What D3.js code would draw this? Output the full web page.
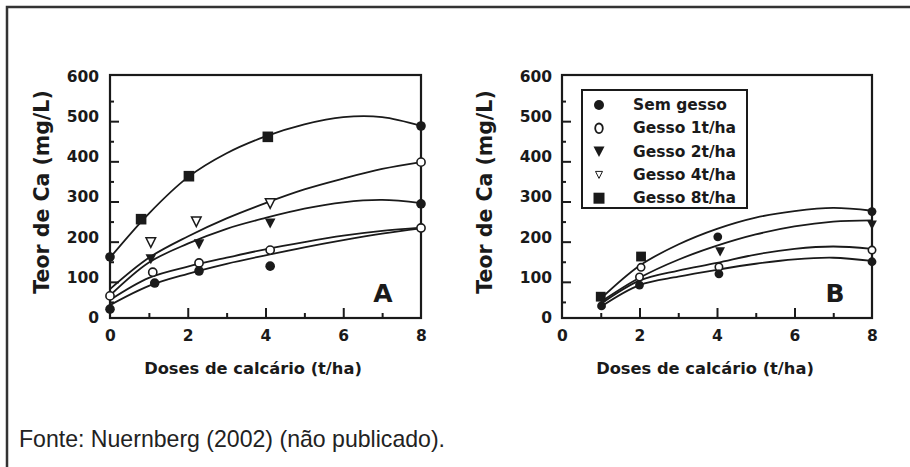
<!DOCTYPE html>
<html>
<head>
<meta charset="utf-8">
<script src="https://cdn.jsdelivr.net/npm/d3@7"></script>
<style>
  body { margin: 0; background: #fff; }
  svg { display: block; }
  .axt { font-family: "DejaVu Sans", sans-serif; font-weight: bold; fill: #1a1a1a; }
</style>
</head>
<body>
<svg id="fig" width="910" height="467"></svg>
<script>
// series (legend order) and their symbols
var seriesNames = ["Sem gesso", "Gesso 1t/ha", "Gesso 2t/ha", "Gesso 4t/ha", "Gesso 8t/ha"];
var seriesSyms  = ["fc", "oc", "ft", "ot", "sq"];

// axis ticks
var yLabels = [0, 100, 200, 300, 400, 500, 600];
var yMajor  = [100, 200, 300, 400, 500];
var yMinor  = [50, 150, 250, 350, 450, 550];
var xLabels = [0, 2, 4, 6, 8];
var xMajor  = [2, 4, 6];
var xMinor  = [1, 3, 5, 7];

// fitted curves at each dose
var curveX = [0, 1, 2, 3, 4, 5, 6, 7, 8];
var curveA_sem = [42, 90, 120, 145, 166, 186, 204, 220, 233];
var curveA_g1  = [55, 110, 138, 160, 181, 199, 215, 227, 235];
var curveA_g2  = [66, 148, 195, 232, 259, 282, 298, 304, 296];
var curveA_g4  = [82, 160, 213, 258, 296, 330, 357, 381, 398];
var curveA_g8  = [160, 270, 360, 420, 462, 492, 510, 510, 488];

var curveBX = [1, 2, 3, 4, 5, 6, 7, 8];
var curveB_sem = [38, 92, 113, 130, 145, 156, 160, 152];
var curveB_g1  = [45, 103, 128, 147, 168, 182, 188, 182];
var curveB_g2  = [50, 110, 155, 190, 218, 238, 250, 253];
var curveB_top = [58, 140, 193, 232, 260, 276, 284, 277];

// measured points (dose, Ca, symbol)
var ptsA_x   = [0, 0, 0, 0.8, 1.05, 1.05, 1.1, 1.15, 2.03, 2.22, 2.29, 2.29, 2.29, 4.06, 4.12, 4.12, 4.12, 4.12, 8, 8, 8, 8];
var ptsA_y   = [32, 65, 162, 256, 199, 157, 124, 97, 363, 251, 194, 147, 127, 461, 296, 246, 179, 139, 488, 398, 294, 234];
var ptsA_sym = ["fc", "oc", "fc", "sq", "ot", "ft", "oc", "fc", "sq", "ot", "ft", "oc", "fc", "sq", "ot", "ft", "oc", "fc", "fc", "oc", "fc", "oc"];

var ptsB_x   = [1.0, 1.02, 2.04, 2.04, 2.0, 2.0, 4.02, 4.08, 4.05, 4.05, 8, 8, 8, 8];
var ptsB_y   = [63, 40, 163, 136, 112, 92, 212, 175, 137, 120, 275, 242, 179, 150];
var ptsB_sym = ["sq", "fc", "sq", "oc", "oc", "fc", "fc", "ft", "oc", "fc", "fc", "ft", "oc", "fc"];

var svg = d3.select("#fig");
var ink = "#1a1a1a";

// outer frame (top and left only)
svg.append("path")
    .attr("d", "M7,467V7H910")
    .attr("fill", "none")
    .attr("stroke", "#333")
    .attr("stroke-width", 2.5);

function symbol(g, kind, r)
{
    if (kind == "fc") {
        g.append("circle").attr("r", r).attr("fill", ink);
    } else if (kind == "oc") {
        g.append("circle").attr("r", r - 0.7).attr("fill", "#fff").attr("stroke", ink).attr("stroke-width", 1.6);
    } else if (kind == "sq") {
        g.append("rect").attr("x", -r - 0.5).attr("y", -r - 0.5).attr("width", 2 * r + 1).attr("height", 2 * r + 1).attr("fill", ink);
    } else if (kind == "ft") {
        g.append("path").attr("d", "M" + (-r - 0.5) + "," + (-r) + "H" + (r + 0.5) + "L0," + (r + 0.5) + "Z").attr("fill", ink);
    } else if (kind == "ot") {
        g.append("path").attr("d", "M" + (-r) + "," + (-r + 0.5) + "H" + r + "L0," + (r + 0.5) + "Z")
            .attr("fill", "#fff").attr("stroke", ink).attr("stroke-width", 1.5);
    }
}

function panel(opt)
{
    var x = d3.scaleLinear().domain([0, 8]).range([opt.x0, opt.x1]);
    var y = d3.scaleLinear().domain([0, 600]).range([322, 81]);
    var top = 75, bottom = 318;

    var g = svg.append("g");

    // y ticks (inward)
    g.append("g").attr("transform", "translate(" + opt.x0 + ",0)")
        .call(d3.axisLeft(y).tickValues(yMajor).tickSizeInner(-9).tickSizeOuter(0).tickFormat(""))
        .call(function(a) { a.select(".domain").remove(); a.selectAll("line").attr("stroke", ink).attr("stroke-width", 2); });
    g.append("g").attr("transform", "translate(" + opt.x0 + ",0)")
        .call(d3.axisLeft(y).tickValues(yMinor).tickSizeInner(-4).tickSizeOuter(0).tickFormat(""))
        .call(function(a) { a.select(".domain").remove(); a.selectAll("line").attr("stroke", ink).attr("stroke-width", 2); });
    // y labels (sit a little above their ticks, as in the scan)
    g.append("g").attr("transform", "translate(" + opt.x0 + ",-4.5)")
        .call(d3.axisLeft(y).tickValues(yLabels).tickSize(0).tickPadding(opt.ypad))
        .call(function(a) {
            a.select(".domain").remove();
            a.selectAll("text").attr("class", "axt").style("font-size", "15.5px").attr("fill", ink);
        });

    // x ticks (inward)
    g.append("g").attr("transform", "translate(0," + bottom + ")")
        .call(d3.axisBottom(x).tickValues(xMajor).tickSizeInner(-10).tickSizeOuter(0).tickFormat(""))
        .call(function(a) { a.select(".domain").remove(); a.selectAll("line").attr("stroke", ink).attr("stroke-width", 2); });
    g.append("g").attr("transform", "translate(0," + bottom + ")")
        .call(d3.axisBottom(x).tickValues(xMinor).tickSizeInner(-5).tickSizeOuter(0).tickFormat(""))
        .call(function(a) { a.select(".domain").remove(); a.selectAll("line").attr("stroke", ink).attr("stroke-width", 2); });
    g.append("g").attr("transform", "translate(0," + bottom + ")")
        .call(d3.axisBottom(x).tickValues(xLabels).tickSize(0).tickPadding(12))
        .call(function(a) {
            a.select(".domain").remove();
            a.selectAll("text").attr("class", "axt").style("font-size", "15.5px").attr("fill", ink);
        });

    // plot box
    g.append("rect")
        .attr("x", opt.x0).attr("y", top)
        .attr("width", opt.x1 - opt.x0).attr("height", bottom - top)
        .attr("fill", "none").attr("stroke", ink).attr("stroke-width", 2.2);

    // curves
    var line = d3.line()
        .x(function(d) { return x(d[0]); })
        .y(function(d) { return y(d[1]); })
        .curve(d3.curveCatmullRom.alpha(0.5));
    opt.curves.forEach(function(c) {
        g.append("path")
            .datum(d3.zip(opt.cx, c))
            .attr("d", line)
            .attr("fill", "none")
            .attr("stroke", ink)
            .attr("stroke-width", 1.8);
    });

    // points
    d3.range(opt.px.length).forEach(function(i) {
        var p = g.append("g").attr("transform", "translate(" + x(opt.px[i]) + "," + y(opt.py[i]) + ")");
        symbol(p, opt.ps[i], opt.r);
    });

    // panel letter
    g.append("text").attr("class", "axt")
        .attr("x", opt.letterX).attr("y", 302)
        .attr("text-anchor", "middle")
        .style("font-size", "25px")
        .text(opt.letter);

    // axis titles
    g.append("text").attr("class", "axt")
        .attr("transform", "translate(" + opt.ytx + ",192) rotate(-90)")
        .attr("text-anchor", "middle")
        .attr("dominant-baseline", "central")
        .style("font-size", "20.5px")
        .text("Teor de Ca (mg/L)");
    g.append("text").attr("class", "axt")
        .attr("x", opt.xtx).attr("y", 374)
        .attr("text-anchor", "middle")
        .style("font-size", "16.3px")
        .text("Doses de calcário (t/ha)");

    return {x: x, y: y};
}

panel({
    x0: 110, x1: 421, ypad: 11, r: 4.8,
    cx: curveX,
    curves: [curveA_sem, curveA_g1, curveA_g2, curveA_g4, curveA_g8],
    px: ptsA_x, py: ptsA_y, ps: ptsA_sym,
    letter: "A", letterX: 383, ytx: 42, xtx: 253
});

panel({
    x0: 562, x1: 872, ypad: 10, r: 4.4,
    cx: curveBX,
    curves: [curveB_sem, curveB_g1, curveB_g2, curveB_top],
    px: ptsB_x, py: ptsB_y, ps: ptsB_sym,
    letter: "B", letterX: 835, ytx: 485, xtx: 705
});

// legend (panel B)
var leg = svg.append("g");
leg.append("rect")
    .attr("x", 582).attr("y", 90).attr("width", 165).attr("height", 118)
    .attr("fill", "#fff").attr("stroke", ink).attr("stroke-width", 2);
seriesNames.forEach(function(name, i) {
    var ry = 105 + i * 23.3;
    var m = leg.append("g").attr("transform", "translate(599," + ry + ")");
    var k = seriesSyms[i];
    if (k == "oc") {
        m.append("ellipse").attr("rx", 3.8).attr("ry", 4.8).attr("fill", "none").attr("stroke", ink).attr("stroke-width", 1.8);
    } else if (k == "ot") {
        m.append("path").attr("d", "M-3.5,-3.5H3.5L0,3.5Z").attr("fill", "none").attr("stroke", ink).attr("stroke-width", 1);
    } else {
        symbol(m, k, 5);
    }
    leg.append("text")
        .attr("x", 633).attr("y", ry)
        .attr("dominant-baseline", "central")
        .style("font-family", "'DejaVu Sans', sans-serif")
        .style("font-weight", "bold")
        .style("font-size", "15.5px")
        .attr("fill", ink)
        .text(name);
});

// source note
svg.append("text")
    .attr("x", 19).attr("y", 447)
    .attr("textLength", 426)
    .attr("lengthAdjust", "spacingAndGlyphs")
    .style("font-family", "'Liberation Sans', Arial, sans-serif")
    .style("font-size", "24px")
    .attr("fill", "#222")
    .text("Fonte: Nuernberg (2002) (não publicado).");
</script>
</body>
</html>
